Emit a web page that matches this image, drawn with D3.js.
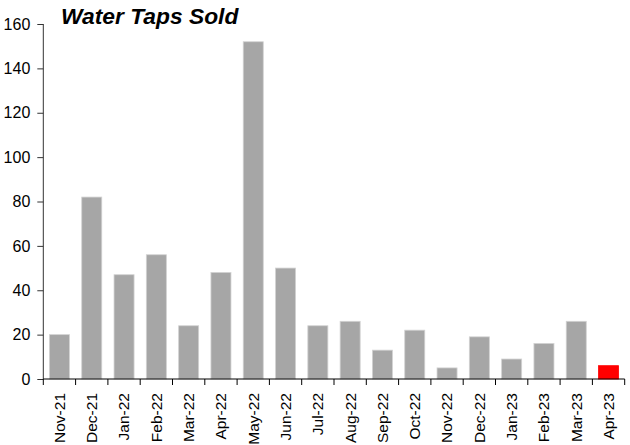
<!DOCTYPE html>
<html>
<head>
<meta charset="utf-8">
<script src="https://cdn.jsdelivr.net/npm/d3@7"></script>
<style>
  html, body { margin: 0; padding: 0; background: #fff; }
  svg { display: block; }
  text { font-family: Arial, "Liberation Sans", sans-serif; }
</style>
</head>
<body>
<svg id="chart" width="630" height="445"></svg>
<script>
const categories = ["Nov-21","Dec-21","Jan-22","Feb-22","Mar-22","Apr-22","May-22","Jun-22","Jul-22","Aug-22","Sep-22","Oct-22","Nov-22","Dec-22","Jan-23","Feb-23","Mar-23","Apr-23"];
const values = [20, 82, 47, 56, 24, 48, 152, 50, 24, 26, 13, 22, 5, 19, 9, 16, 26, 6];
const highlight = ["Apr-23"];
const yTicks = [0, 20, 40, 60, 80, 100, 120, 140, 160];
const title = "Water Taps Sold";

const svg = d3.select("#chart");
const plotLeft = 43.3, plotRight = 624.7, plotTop = 24, plotBottom = 379;

const x = d3.scaleBand().domain(categories).range([plotLeft, plotRight]).paddingInner(0.38).paddingOuter(0.19);
const y = d3.scaleLinear().domain([0, 160]).range([plotBottom, plotTop]);

// bars
svg.append("g").selectAll("rect").data(categories).join("rect")
  .attr("x", d => x(d))
  .attr("y", (d, i) => y(values[i]))
  .attr("width", x.bandwidth())
  .attr("height", (d, i) => y(0) - y(values[i]))
  .attr("fill", d => highlight.includes(d) ? "#ff0000" : "#a6a6a6")
  .attr("stroke", d => highlight.includes(d) ? "#ff0000" : "#d2d2d2")
  .attr("stroke-width", 0.8);

// y axis
const yAxis = svg.append("g").attr("transform", `translate(${plotLeft},0)`)
  .call(d3.axisLeft(y).tickValues(yTicks).tickSize(6).tickSizeOuter(0).tickPadding(7));
yAxis.select(".domain").attr("stroke", "#333").attr("d", `M0,${plotBottom}V${plotTop}`);
yAxis.selectAll(".tick line").attr("stroke", "#333");
yAxis.selectAll(".tick text").attr("font-size", 16).attr("fill", "#000")
  .style("font-family", "Arial, 'Liberation Sans', sans-serif");

// x axis with ticks at category boundaries
const step = x.step();
const bounds = d3.range(categories.length + 1).map(i => plotLeft + i * step);
const xg = svg.append("g");
xg.append("line").attr("x1", plotLeft).attr("x2", plotRight).attr("y1", plotBottom).attr("y2", plotBottom)
  .attr("stroke", "#000").attr("stroke-width", 1);
xg.selectAll("line.tk").data(bounds).join("line").attr("class", "tk")
  .attr("x1", d => d).attr("x2", d => d).attr("y1", plotBottom).attr("y2", plotBottom + 6)
  .attr("stroke", "#000");
xg.selectAll("text").data(categories).join("text")
  .attr("transform", d => `translate(${x(d) + x.bandwidth() / 2},${plotBottom + 14}) rotate(-90)`)
  .attr("text-anchor", "end")
  .attr("dy", "0.35em")
  .attr("font-size", 15.5)
  .attr("fill", "#000")
  .text(d => d);

// title
svg.append("text").attr("x", 61).attr("y", 24)
  .attr("font-size", 22.8).attr("font-weight", "bold").attr("font-style", "italic")
  .attr("fill", "#000").text(title);
</script>
</body>
</html>
